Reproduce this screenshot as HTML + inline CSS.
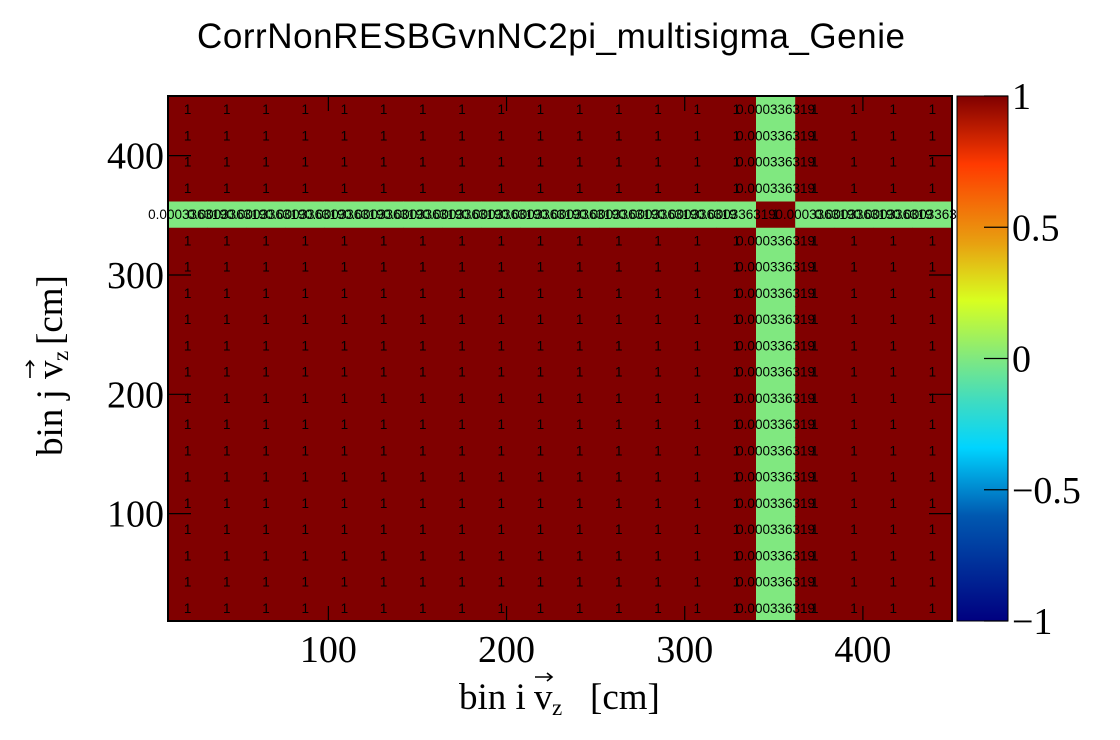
<!DOCTYPE html>
<html><head><meta charset="utf-8"><style>
html,body{margin:0;padding:0;background:#fff;}
svg{display:block;}
.ser{font-family:"Liberation Serif",serif;}
.san{font-family:"Liberation Sans",sans-serif;}
</style></head><body>
<svg id="chart" width="1120" height="740" viewBox="0 0 1120 740" xmlns="http://www.w3.org/2000/svg">
<defs>
<linearGradient id="pal" x1="0" y1="1" x2="0" y2="0">
<stop offset="0" stop-color="#000080"/>
<stop offset="0.2" stop-color="#0058b0"/>
<stop offset="0.33" stop-color="#00d4ff"/>
<stop offset="0.42" stop-color="#40dcc0"/>
<stop offset="0.5" stop-color="#80e880"/>
<stop offset="0.61" stop-color="#d8ff20"/>
<stop offset="0.72" stop-color="#e8a010"/>
<stop offset="0.87" stop-color="#ff3a00"/>
<stop offset="1" stop-color="#800000"/>
</linearGradient>
</defs>
<rect width="1120" height="740" fill="#fff"/>
<text x="551" y="48" text-anchor="middle" class="san" font-size="35" textLength="708">CorrNonRESBGvnNC2pi_multisigma_Genie</text>
<g id="cells"></g>
<g id="labels"></g>
<rect x="168" y="96" width="784" height="525" fill="none" stroke="#000" stroke-width="2"/>
<g id="axes"></g>
<rect x="957" y="96" width="51" height="525" fill="url(#pal)" stroke="#000" stroke-width="1"/>
<g id="palaxis"></g>
<g class="ser" font-size="37">
<text x="459" y="709">bin i</text>
<text x="534" y="709">v</text>
<text x="552" y="715" font-size="23">z</text>
<text x="590" y="709">[cm]</text>
<path d="M535 677 L552 677 M547 673 L552 677 L547 681" stroke="#000" stroke-width="1.6" fill="none"/>
</g>
<g transform="translate(62,357) rotate(-90)" class="ser" font-size="37">
<text x="-99" y="0">bin j</text>
<text x="-22" y="0">v</text>
<text x="-4" y="6" font-size="23">z</text>
<text x="12" y="0">[cm]</text>
<path d="M-21 -32 L-4 -32 M-9 -36 L-4 -32 L-9 -28" stroke="#000" stroke-width="1.6" fill="none"/>
</g>
</svg>
<script>
const binEdges = [10,32,54,76,98,120,142,164,186,208,230,252,274,296,318,340,362,384,406,428,450];
const lowBin = 15;
const offValue = 0.000336319;
const diagValue = 1;
const otherValue = 1;
const xTicks = [100,200,300,400];
const yTicks = [100,200,300,400];
const zTicks = [-1,-0.5,0,0.5,1];
const zTickLabels = ["\u22121","\u22120.5","0","0.5","1"];

const X0=168,X1=952,Y0=621,Y1=96,xmin=10,xmax=450;
const sx=v=>X0+(v-xmin)/(xmax-xmin)*(X1-X0);
const sy=v=>Y0-(v-xmin)/(xmax-xmin)*(Y0-Y1);
const sz=v=>621-(v+1)/2*525;
const NS="http://www.w3.org/2000/svg";
function mk(t,a,p){const e=document.createElementNS(NS,t);for(const k in a)e.setAttribute(k,a[k]);p.appendChild(e);return e;}
function color(v){
  const stops=[[-1,[0,0,128]],[-0.6,[0,88,176]],[-0.34,[0,212,255]],[-0.16,[64,220,192]],[0,[128,232,128]],[0.22,[216,255,32]],[0.44,[232,160,16]],[0.74,[255,58,0]],[1,[128,0,0]]];
  for(let i=1;i<stops.length;i++){if(v<=stops[i][0]){const a=stops[i-1],b=stops[i];const t=(v-a[0])/(b[0]-a[0]);const c=a[1].map((x,k)=>Math.round(x+(b[1][k]-x)*t));return "rgb("+c.join(",")+")";}}
  return "rgb(128,0,0)";
}
const n=binEdges.length-1;
const values=[];
for(let i=0;i<n;i++){values.push([]);for(let j=0;j<n;j++){values[i].push(i===j&&i===lowBin?diagValue:(i===lowBin||j===lowBin?offValue:otherValue));}}
const cells=document.getElementById('cells'),labels=document.getElementById('labels');
for(let i=0;i<n;i++)for(let j=0;j<n;j++){
  const v=values[i][j];
  const x=sx(binEdges[i]),x2=sx(binEdges[i+1]),y=sy(binEdges[j+1]),y2=sy(binEdges[j]);
  const r=mk('rect',{x:x,y:y,width:x2-x+0.5,height:y2-y+0.5,fill:color(v)},cells);
  
  
}
for(let i=0;i<n;i++)for(let j=0;j<n;j++){
  const v=values[i][j];
  const cx=(sx(binEdges[i])+sx(binEdges[i+1]))/2,cy=(sy(binEdges[j])+sy(binEdges[j+1]))/2;
  const t=mk('text',{x:cx,y:cy+5,'text-anchor':'middle','font-size':'13.5','class':'san'},labels);
  t.textContent=String(v);
  
  
}
const axes=document.getElementById('axes');
xTicks.forEach(v=>{
  const x=sx(v);
  mk('line',{x1:x,y1:Y0,x2:x,y2:Y0-15,stroke:'#000','stroke-width':1.2},axes);
  mk('line',{x1:x,y1:Y1,x2:x,y2:Y1+15,stroke:'#000','stroke-width':1.2},axes);
  const t=mk('text',{x:x,y:662,'text-anchor':'middle','font-size':'38','class':'ser'},axes);
  t.textContent=v;
  
  
});
yTicks.forEach(v=>{
  const y=sy(v);
  mk('line',{x1:X0,y1:y,x2:X0+23,y2:y,stroke:'#000','stroke-width':1.2},axes);
  mk('line',{x1:X1,y1:y,x2:X1-23,y2:y,stroke:'#000','stroke-width':1.2},axes);
  const t=mk('text',{x:164,y:y+13,'text-anchor':'end','font-size':'38','class':'ser'},axes);
  t.textContent=v;
  
  
});
const pa=document.getElementById('palaxis');
zTicks.forEach((v,k)=>{
  const y=sz(v);
  mk('line',{x1:1008,y1:y,x2:984,y2:y,stroke:'#000','stroke-width':1.2},pa);
  const t=mk('text',{x:1012,y:y+13,'font-size':'38','class':'ser'},pa);
  t.textContent=zTickLabels[k];
  
  
});
</script>
</body></html>
